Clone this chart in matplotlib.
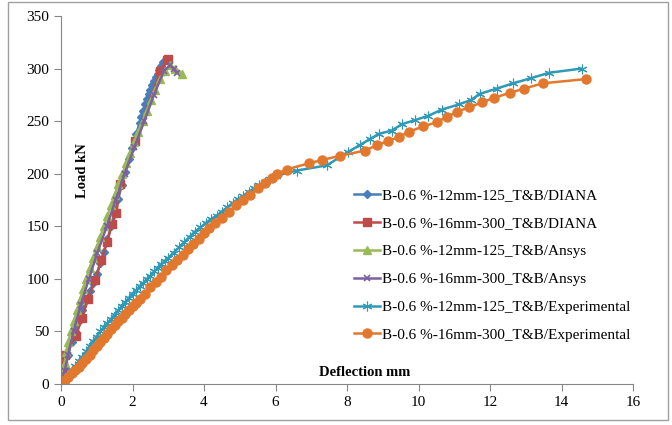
import matplotlib.pyplot as plt
from matplotlib.patches import Rectangle

plt.rcParams['font.family'] = ['Liberation Serif', 'DejaVu Serif']

# DIANA 12mm-125
diana12_x = [0, 0.05, 0.1, 0.2, 0.3, 0.4, 0.5, 0.6, 0.7, 0.8, 0.9, 1.0, 1.1, 1.2, 1.3, 1.4, 1.5, 1.6,
             1.7, 1.8, 1.9, 1.99, 2.1, 2.2, 2.25, 2.3, 2.35, 2.4, 2.45, 2.5, 2.55, 2.6, 2.65, 2.7, 2.75, 2.8, 2.85]
diana12_y = [0, 8, 15, 28, 40, 50, 60, 70, 80, 88, 96, 105, 115, 126, 138, 150, 163, 176,
             189, 202, 214, 224, 238, 248, 254, 260, 266, 271, 276, 280, 284, 288, 292, 295, 299, 302, 306]

# DIANA 16mm-300
diana16_x = [0, 0.02, 0.05, 0.1, 0.42, 0.59, 0.76, 0.96, 1.13, 1.29, 1.43, 1.55, 1.66, 2.08, 2.78, 2.97, 3.0]
diana16_y = [0, 10, 18, 28, 46, 63, 81, 99, 118, 135, 152, 163, 190, 231, 298, 308, 309]

# Ansys 12mm-125
ansys12_x = [0, 0.05, 0.1, 0.15, 0.2, 0.28, 0.36, 0.45, 0.53, 0.62, 0.7, 0.8, 0.9, 1.0, 1.1, 1.2, 1.3,
             1.4, 1.5, 1.6, 1.72, 1.83, 1.94, 2.05, 2.16, 2.28, 2.4, 2.52, 2.64, 2.78, 2.92, 3.05, 3.2, 3.39]
ansys12_y = [0, 10, 20, 30, 40, 50, 60, 70, 80, 90, 100, 110, 120, 130, 140, 150, 160,
             170, 180, 190, 200, 210, 220, 230, 240, 250, 260, 270, 280, 290, 298, 303, 300, 295]

# Ansys 16mm-300
ansys16_x = [0, 0.1, 0.2, 0.35, 0.55, 0.78, 1.02, 1.28, 1.53, 1.78, 2.05, 2.33, 2.6, 2.88, 3.05, 3.15, 3.25]
ansys16_y = [0, 12, 28, 50, 75, 100, 125, 150, 175, 200, 225, 250, 275, 298, 303, 300, 296]

# Experimental 12mm-125
exp12_x = [0, 0.1, 0.2, 0.3, 0.4, 0.5, 0.6, 0.7, 0.8, 0.9, 1.0, 1.1, 1.2, 1.3, 1.4, 1.5, 1.6, 1.7, 1.8,
           1.9, 2.0, 2.1, 2.2, 2.3, 2.4, 2.5, 2.6, 2.7, 2.8, 2.9, 3.0, 3.15, 3.3, 3.45, 3.6, 3.75, 3.9,
           4.05, 4.2, 4.35, 4.5, 4.65, 4.8, 4.95, 5.1, 5.25, 5.4, 5.55, 5.7, 5.85, 6.0, 6.6, 7.44, 8.04,
           8.35, 8.64, 8.9, 9.25, 9.53, 9.9, 10.27, 10.65, 11.14, 11.46, 11.72, 12.19, 12.65, 13.16,
           13.65, 14.56]
exp12_y = [0, 4, 8, 13, 17, 22, 26, 31, 36, 41, 45, 50, 54, 58, 62, 66, 70, 74, 78,
           82, 86, 89, 93, 96, 100, 103, 107, 110, 114, 117, 120, 125, 130, 135, 140, 145, 149,
           153, 157, 160, 164, 168, 172, 176, 179, 183, 186, 189, 192, 195, 198, 203, 208, 221,
           227, 233, 238, 241, 247, 251, 255, 261, 266, 270, 276, 281, 286, 291,
           296, 300]

# Experimental 16mm-300
exp16_x = [0, 0.05, 0.12, 0.2, 0.3, 0.4, 0.5, 0.6, 0.7, 0.8, 0.9, 1.0, 1.1, 1.2, 1.3, 1.4, 1.5, 1.6,
           1.7, 1.8, 1.9, 2.0, 2.1, 2.2, 2.35, 2.5, 2.65, 2.8, 2.95, 3.1, 3.25, 3.4, 3.55, 3.7, 3.85,
           4.0, 4.15, 4.3, 4.5, 4.7, 4.9, 5.1, 5.3, 5.5, 5.7, 5.9, 6.04, 6.31, 6.94, 7.3, 7.8, 8.5,
           8.83, 9.14, 9.46, 9.74, 10.13, 10.51, 10.79, 11.09, 11.4, 11.79, 12.1, 12.56, 12.96,
           13.48, 14.68]
exp16_y = [0, 1, 4, 7, 10, 13, 16, 20, 24, 28, 32, 36, 40, 44, 48, 52, 56, 60,
           63, 67, 70, 74, 77, 81, 86, 92, 97, 102, 108, 113, 118, 123, 128, 133, 138,
           144, 148, 153, 158, 164, 170, 175, 180, 186, 191, 196, 200, 204, 210, 213, 217, 222,
           227, 231, 235, 240, 245, 249, 254, 259, 263, 268, 272, 277, 281,
           286, 290]

labels = ["B-0.6 %-12mm-125_T&B/DIANA", "B-0.6 %-16mm-300_T&B/DIANA",
          "B-0.6 %-12mm-125_T&B/Ansys", "B-0.6 %-16mm-300_T&B/Ansys",
          "B-0.6 %-12mm-125_T&B/Experimental", "B-0.6 %-16mm-300_T&B/Experimental"]

fig = plt.figure(figsize=(6.72, 4.25), dpi=100)
ax = fig.add_axes([61 / 672, 1 - 384 / 425, (633 - 61) / 672, (384 - 16) / 425])

ax.plot(diana12_x, diana12_y, color="#4A7EBB", lw=1.8, marker="D", ms=4, label=labels[0])
ax.plot(diana16_x, diana16_y, color="#BE4B48", lw=1.8, marker="s", ms=6, label=labels[1])
ax.plot(ansys12_x, ansys12_y, color="#98B954", lw=1.8, marker="^", ms=5.5, label=labels[2])
ax.plot(ansys16_x, ansys16_y, color="#7D60A0", lw=1.8, marker="x", ms=5, mew=1.2, label=labels[3])
ax.plot(exp12_x, exp12_y, color="#2E9AB8", lw=1.8, marker=(6, 2, 0), ms=7, mew=0.8, label=labels[4])
ax.plot(exp16_x, exp16_y, color="#E2782E", lw=1.8, marker="o", ms=6.5, label=labels[5])

ax.set_xlim(0, 16)
ax.set_ylim(0, 350)
ax.set_xticks(range(0, 17, 2))
ax.set_yticks(range(0, 351, 50))
ax.tick_params(colors="#868686", labelcolor="black", labelsize=11, length=5, direction="out")
for s in ["top", "right"]:
    ax.spines[s].set_visible(False)
for s in ["left", "bottom"]:
    ax.spines[s].set_color("#868686")

fig.text(82 / 672, 1 - 171 / 425, "Load kN", rotation=90, fontsize=10.5, fontweight="bold",
         ha="center", va="center")
fig.text(365 / 672, 1 - 372 / 425, "Deflection mm", fontsize=10.5, fontweight="bold",
         ha="center", va="center")

ax.legend(loc="upper left", bbox_to_anchor=(346 / 672, 1 - 181 / 425),
          bbox_transform=fig.transFigure, frameon=False, fontsize=11,
          handlelength=1.75, handletextpad=0.1, labelspacing=0.93, borderpad=0)

fig.patches.append(Rectangle((8 / 672, 1 - 420 / 425), 660 / 672, 418 / 425,
                             transform=fig.transFigure, fill=False, edgecolor="#A0A0A0", lw=1))

plt.savefig("out.png", dpi=100)
plt.close()
